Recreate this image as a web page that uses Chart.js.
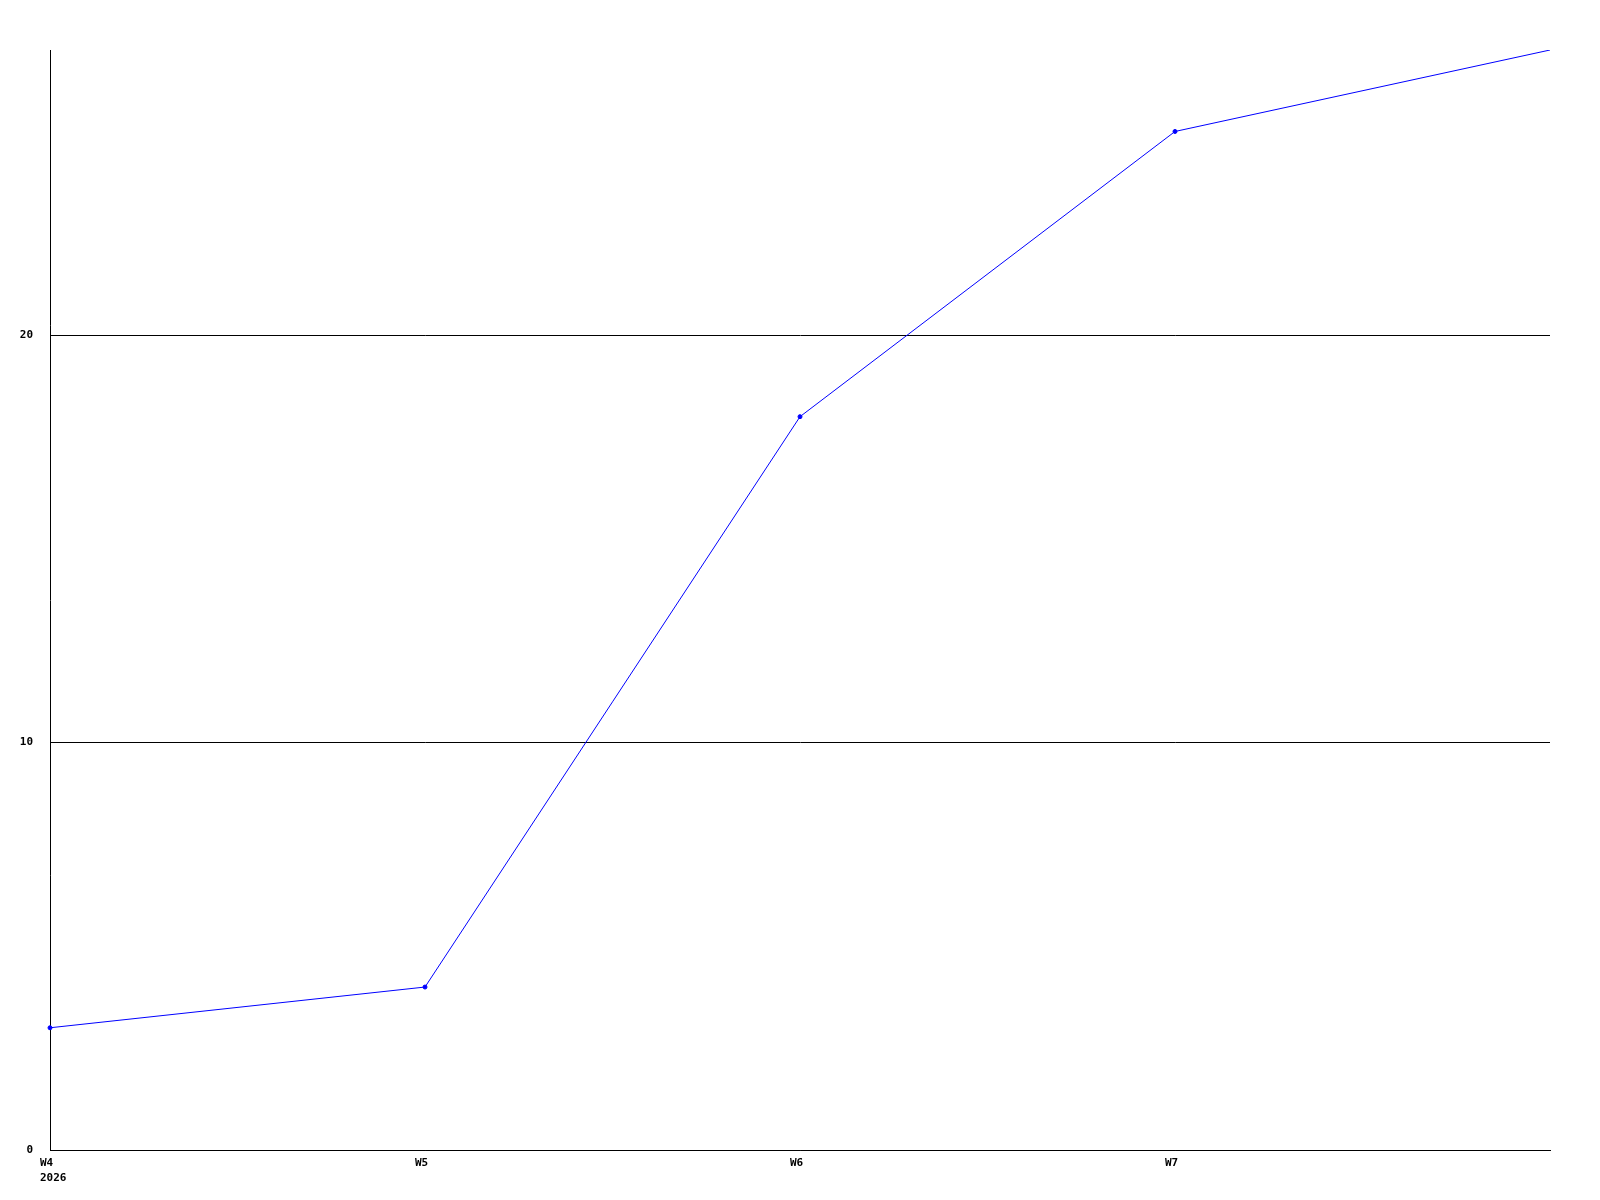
<!DOCTYPE html>
<html>
<head>
<meta charset="utf-8">
<script src="https://cdn.jsdelivr.net/npm/chart.js@4.4.1/dist/chart.umd.min.js"></script>
<style>
  html, body { margin: 0; padding: 0; background: #fff; }
  #wrap { width: 1600px; height: 1200px; }
</style>
</head>
<body>
<div id="wrap"><canvas id="WeeklyChart"></canvas></div>
<script>
const weeks = ['W4', 'W5', 'W6', 'W7', 'W8'];
const weekYears = ['2026', '', '', '', ''];
const values = [3, 4, 18, 25, 27];
const yTicks = [0, 10, 20];

const font = { family: 'DejaVu Sans Mono', size: 11, weight: 'bold' };

// x labels sit a bit left of their tick, like the original
const weekLabels = {
    id: 'weekLabels',
    afterDraw(chart) {
        const ctx = chart.ctx;
        const x = chart.scales.x;
        ctx.save();
        ctx.fillStyle = '#000';
        ctx.font = 'bold 11px "DejaVu Sans Mono"';
        ctx.textAlign = 'left';
        ctx.textBaseline = 'middle';
        for (let i = 0; i < weeks.length - 1; i++) {
            const px = x.getPixelForValue(i) - 10;
            ctx.fillText(weeks[i], px, x.top + 13);
            if (weekYears[i]) ctx.fillText(weekYears[i], px, x.top + 28);
        }
        ctx.restore();
    }
};

const ctx = document.getElementById('WeeklyChart');
const WeeklyChart = new Chart(ctx, {
    type: 'line',
    data: {
        labels: weeks,
        datasets: [{
            data: values,
            borderColor: '#0000ff',
            backgroundColor: '#0000ff',
            borderWidth: 1,
            pointRadius: [2, 2, 2, 2, 0],
            pointStyle: 'circle',
            tension: 0,
            fill: false
        }]
    },
    options: {
        responsive: true,
        maintainAspectRatio: false,
        animation: false,
        layout: { padding: { top: 50, right: 50, left: 0, bottom: 0 } },
        plugins: {
            legend: { display: false },
            tooltip: { enabled: false }
        },
        scales: {
            x: {
                offset: false,
                grid: { display: false, drawTicks: false },
                border: { color: '#000', width: 1 },
                ticks: { display: false },
                afterFit: function (scale) { scale.height = 50; }
            },
            y: {
                min: 0,
                max: 27,
                afterBuildTicks: function (scale) {
                    scale.ticks = yTicks.map(v => ({ value: v }));
                },
                grid: { color: '#000', lineWidth: 1, drawTicks: false },
                border: { color: '#000', width: 1 },
                ticks: {
                    color: '#000',
                    font: font,
                    padding: 17
                },
                afterFit: function (scale) { scale.width = 50; }
            }
        }
    },
    plugins: [weekLabels]
});
</script>
</body>
</html>
